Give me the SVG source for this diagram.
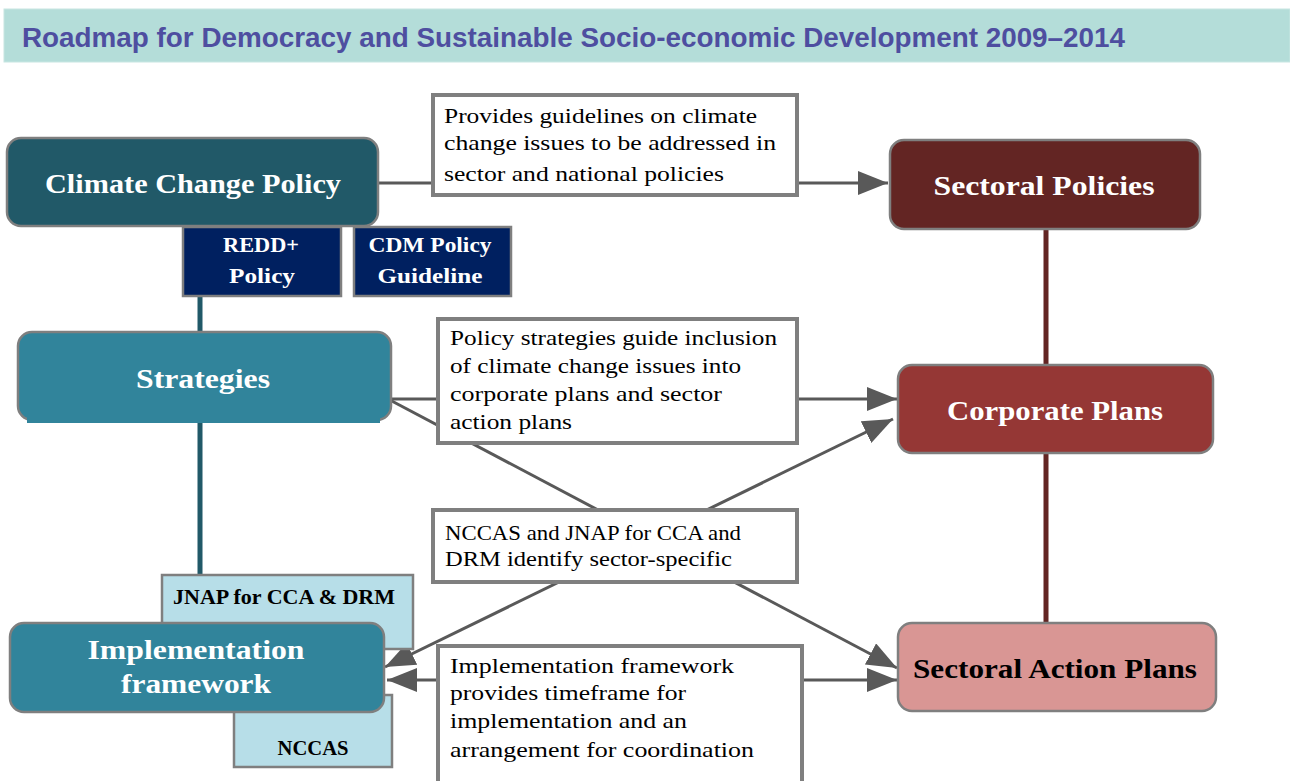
<svg xmlns="http://www.w3.org/2000/svg" width="1290" height="781" viewBox="0 0 1290 781">
<style>
.lbl{font-family:"Liberation Serif","DejaVu Serif",serif;font-weight:bold;text-anchor:middle}
.w{fill:#ffffff}
.k{fill:#000000}
.note{font-family:"Liberation Serif","DejaVu Serif",serif;font-size:22px;fill:#000}
.nbox{fill:#ffffff;stroke:#7f7f7f;stroke-width:4}
.node{stroke:#7f7f7f;stroke-width:2.5}
.ln{stroke:#595959;stroke-width:3;fill:none}
</style>
<defs>
<marker id="ah2" viewBox="0 0 30 24" refX="30" refY="12" markerWidth="30" markerHeight="24" markerUnits="userSpaceOnUse" orient="auto-start-reverse">
<path d="M0,0 L30,12 L0,24 z" fill="#595959"/>
</marker>
</defs>
<rect width="1290" height="781" fill="#ffffff"/>
<g id="title">
<rect x="4" y="9" width="1286" height="53" fill="#b4ddd9" stroke="#c8e6e2" stroke-width="1"/>
<text x="22" y="47" font-family="'Liberation Sans',Arial,sans-serif" font-weight="bold" font-size="27" fill="#4e4ea0" textLength="1103" lengthAdjust="spacingAndGlyphs">Roadmap for Democracy and Sustainable Socio-economic Development 2009–2014</text>
</g>
<g id="connectors">
<line class="ln" x1="378" y1="183" x2="434" y2="183"/>
<line class="ln" x1="797" y1="183" x2="888" y2="183" marker-end="url(#ah2)"/>
<line class="ln" x1="389" y1="399" x2="439" y2="399"/>
<line class="ln" x1="797" y1="399" x2="897" y2="399" marker-end="url(#ah2)"/>
<line class="ln" x1="388" y1="399" x2="897" y2="668" marker-end="url(#ah2)"/>
<line class="ln" x1="893" y1="419" x2="385" y2="667" marker-start="url(#ah2)" marker-end="url(#ah2)"/>
<line class="ln" x1="439" y1="680" x2="387" y2="680" marker-end="url(#ah2)"/>
<line class="ln" x1="802" y1="680" x2="897" y2="680" marker-end="url(#ah2)"/>
<line x1="200" y1="296" x2="200" y2="334" stroke="#215968" stroke-width="5"/>
<line x1="200" y1="420" x2="200" y2="576" stroke="#215968" stroke-width="5"/>
<line x1="1046" y1="229" x2="1046" y2="366" stroke="#632523" stroke-width="5"/>
<line x1="1046" y1="453" x2="1046" y2="624" stroke="#632523" stroke-width="5"/>
</g>
<g id="note1">
<rect class="nbox" x="433" y="95" width="364" height="100"/>
<text class="note" x="444" y="123" textLength="313" lengthAdjust="spacingAndGlyphs">Provides guidelines on climate</text>
<text class="note" x="444" y="150" textLength="332" lengthAdjust="spacingAndGlyphs">change issues to be addressed in</text>
<text class="note" x="444" y="181" textLength="280" lengthAdjust="spacingAndGlyphs">sector and national policies</text>
</g>
<g id="note2">
<rect class="nbox" x="438" y="319" width="359" height="124"/>
<text class="note" x="450" y="345" textLength="327" lengthAdjust="spacingAndGlyphs">Policy strategies guide inclusion</text>
<text class="note" x="450" y="373" textLength="291" lengthAdjust="spacingAndGlyphs">of climate change issues into</text>
<text class="note" x="450" y="401" textLength="272" lengthAdjust="spacingAndGlyphs">corporate plans and sector</text>
<text class="note" x="450" y="429" textLength="122" lengthAdjust="spacingAndGlyphs">action plans</text>
</g>
<g id="note3">
<rect class="nbox" x="433" y="510" width="364" height="72"/>
<text class="note" x="445" y="540" textLength="296" lengthAdjust="spacingAndGlyphs">NCCAS and JNAP for CCA and</text>
<text class="note" x="445" y="566" textLength="287" lengthAdjust="spacingAndGlyphs">DRM identify sector-specific</text>
</g>
<g id="note4">
<rect class="nbox" x="438" y="646" width="364" height="140"/>
<text class="note" x="450" y="673" textLength="284" lengthAdjust="spacingAndGlyphs">Implementation framework</text>
<text class="note" x="450" y="700" textLength="236" lengthAdjust="spacingAndGlyphs">provides timeframe for</text>
<text class="note" x="450" y="728" textLength="237" lengthAdjust="spacingAndGlyphs">implementation and an</text>
<text class="note" x="450" y="757" textLength="304" lengthAdjust="spacingAndGlyphs">arrangement for coordination</text>
</g>
<g id="climate-change-policy">
<rect class="node" x="7" y="138" width="371" height="88" rx="14" fill="#215968"/>
<text class="lbl w" x="193" y="193" font-size="28" textLength="296" lengthAdjust="spacingAndGlyphs">Climate Change Policy</text>
</g>
<g id="redd-policy">
<rect class="node" x="183" y="227" width="158" height="69" fill="#002060"/>
<text class="lbl w" x="261" y="252" font-size="22" textLength="76" lengthAdjust="spacingAndGlyphs">REDD+</text>
<text class="lbl w" x="262" y="283" font-size="22" textLength="66" lengthAdjust="spacingAndGlyphs">Policy</text>
</g>
<g id="cdm-policy">
<rect class="node" x="354" y="227" width="157" height="69" fill="#002060"/>
<text class="lbl w" x="430" y="252" font-size="22" textLength="123" lengthAdjust="spacingAndGlyphs">CDM Policy</text>
<text class="lbl w" x="430" y="283" font-size="22" textLength="105" lengthAdjust="spacingAndGlyphs">Guideline</text>
</g>
<g id="strategies">
<rect class="node" x="18" y="332" width="373" height="88" rx="14" fill="#31849b"/>
<rect x="27" y="408" width="353" height="15" fill="#31849b"/>
<text class="lbl w" x="203" y="388" font-size="28" textLength="134" lengthAdjust="spacingAndGlyphs">Strategies</text>
</g>
<g id="jnap">
<rect class="node" x="162" y="575" width="251" height="74" fill="#b7dee8"/>
<text class="lbl k" x="284" y="604" font-size="21" textLength="222" lengthAdjust="spacingAndGlyphs">JNAP for CCA &amp; DRM</text>
</g>
<g id="nccas">
<rect class="node" x="234" y="695" width="158" height="72" fill="#b7dee8"/>
<text class="lbl k" x="313" y="755" font-size="21" textLength="71" lengthAdjust="spacingAndGlyphs">NCCAS</text>
</g>
<g id="implementation-framework">
<rect class="node" x="10" y="623" width="374" height="89" rx="14" fill="#31849b"/>
<text class="lbl w" x="196" y="659" font-size="28" textLength="217" lengthAdjust="spacingAndGlyphs">Implementation</text>
<text class="lbl w" x="196" y="693" font-size="28" textLength="150" lengthAdjust="spacingAndGlyphs">framework</text>
</g>
<g id="sectoral-policies">
<rect class="node" x="890" y="140" width="310" height="89" rx="14" fill="#632523"/>
<text class="lbl w" x="1044" y="195" font-size="28" textLength="221" lengthAdjust="spacingAndGlyphs">Sectoral Policies</text>
</g>
<g id="corporate-plans">
<rect class="node" x="898" y="365" width="315" height="88" rx="14" fill="#953735"/>
<text class="lbl w" x="1055" y="420" font-size="28" textLength="216" lengthAdjust="spacingAndGlyphs">Corporate Plans</text>
</g>
<g id="sectoral-action-plans">
<rect class="node" x="898" y="623" width="318" height="88" rx="14" fill="#d99694"/>
<text class="lbl k" x="1055" y="678" font-size="28" textLength="284" lengthAdjust="spacingAndGlyphs">Sectoral Action Plans</text>
</g>
</svg>
